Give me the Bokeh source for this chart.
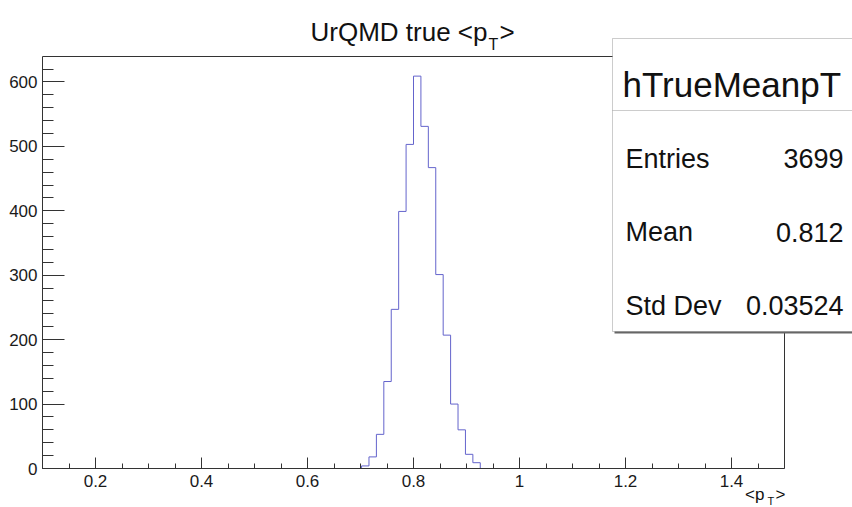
from bokeh.plotting import figure
from bokeh.models import (Range1d, LinearAxis, SingleIntervalTicker, FixedTicker,
                          CustomJSTickFormatter, Label, BoxAnnotation, PolyAnnotation)
from bokeh.embed import file_html
from bokeh.resources import INLINE

# ---- histogram content: 100 bins on [0.1, 1.5], only bins 43..58 are filled ----
bin_low = 0.1
bin_high = 1.5
n_bins = 100
first_filled_bin = 43
bin_counts = [4, 18, 53, 135, 247, 399, 503, 609, 531, 467, 301, 207, 100, 60, 22, 9]

hist_name = "hTrueMeanpT"
stat_names = ["Entries", "Mean", "Std Dev"]
stat_values = ["3699", "0.812", "0.03524"]

title_main = "UrQMD true <p"
axis_title_main = "<p"
sub_text = "T"
close_text = ">"

# ---- geometry: the histogram pad occupies this pixel box of the canvas ----
W, H = 852, 507
FL, FT, FW, FH = 42, 56, 742, 412
FONT = "Liberation Sans"

bin_width = (bin_high - bin_low) / n_bins
y_top = 1.05 * max(bin_counts)


def dx(px):
    return bin_low + (px - FL) * (bin_high - bin_low) / FW


def dy(py):
    return y_top - (py - FT) * y_top / FH


# The plotting frame spans the whole canvas; axes are pinned at fixed data
# locations so that titles and the stats box can sit anywhere on the page.
p = figure(width=W, height=H, output_backend="svg", toolbar_location=None,
           x_range=Range1d(dx(0), dx(W)), y_range=Range1d(dy(H), dy(0)),
           x_axis_location=None, y_axis_location=None,
           min_border=0, min_border_left=0, min_border_right=0,
           min_border_top=0, min_border_bottom=0,
           background_fill_color="white", border_fill_color="white")
p.outline_line_color = None
p.grid.visible = False

# ---- step outline of the histogram ----
edges = [bin_low + (first_filled_bin + i) * bin_width for i in range(len(bin_counts) + 1)]
xs = [bin_low] + edges + [bin_high]
ys = [0] + list(bin_counts) + [0, 0]
p.step(xs, ys, mode="after", line_color="#6464cc", line_width=1)

# ---- axes with inward ticks ----
axis_color = "#333333"
xa = LinearAxis(fixed_location=0, bounds=(bin_low, bin_high))
xa.ticker = SingleIntervalTicker(interval=0.2, num_minor_ticks=4)
xa.formatter = CustomJSTickFormatter(code="return String(Math.round(tick * 10) / 10);")
xa.major_tick_in = 11
xa.major_tick_out = 0
xa.minor_tick_in = 5
xa.minor_tick_out = 0
xa.major_label_standoff = 6

ya = LinearAxis(fixed_location=bin_low, bounds=(0, y_top))
ya.ticker = SingleIntervalTicker(interval=100, num_minor_ticks=5)
ya.major_tick_in = 22
ya.major_tick_out = 0
ya.minor_tick_in = 11
ya.minor_tick_out = 0
ya.major_label_standoff = 5

for ax in (xa, ya):
    ax.axis_line_color = axis_color
    ax.major_tick_line_color = axis_color
    ax.minor_tick_line_color = axis_color
    ax.major_label_text_font = FONT
    ax.major_label_text_font_size = "17px"
    ax.major_label_text_color = "#1a1a1a"

p.add_layout(xa, "below")
p.add_layout(ya, "left")

# plain frame lines on top and right of the pad
top_line = LinearAxis(fixed_location=y_top, bounds=(bin_low, bin_high))
right_line = LinearAxis(fixed_location=bin_high, bounds=(0, y_top))
for fa, side in ((top_line, "above"), (right_line, "right")):
    fa.ticker = FixedTicker(ticks=[])
    fa.axis_line_color = axis_color
    fa.major_tick_in = 0
    fa.major_tick_out = 0
    fa.minor_tick_in = 0
    fa.minor_tick_out = 0
    fa.major_label_text_font_size = "0px"
    p.add_layout(fa, side)


def add_text(px, py, text, size, align="left"):
    p.add_layout(Label(x=dx(px), y=dy(py), text=text, text_align=align,
                       text_baseline="alphabetic", text_font=FONT,
                       text_font_size=size, text_color="#111111"))


# ---- title ----
add_text(487, 31, title_main, "26px", "right")
add_text(488, 44, sub_text, "16px")
add_text(499, 31, close_text, "26px")

# ---- x axis title ----
add_text(764, 494, axis_title_main, "17px", "right")
add_text(767, 500, sub_text, "11px")
add_text(775, 494, close_text, "17px")

# ---- statistics box ----
box_l, box_t, box_b, box_r = 612, 38, 331, 900
p.add_layout(BoxAnnotation(left=dx(box_l + 2), right=dx(box_r), top=dy(box_t + 2),
                           bottom=dy(box_b + 2), fill_color="#666666", fill_alpha=1,
                           line_color=None))
p.add_layout(BoxAnnotation(left=dx(box_l), right=dx(box_r), top=dy(box_t),
                           bottom=dy(box_b), fill_color="white", fill_alpha=1,
                           line_color="#555555", line_width=1))
p.add_layout(PolyAnnotation(xs=[dx(box_l), dx(box_r)], ys=[dy(110), dy(110)],
                            fill_alpha=0, line_color="#555555", line_width=1))

add_text(622, 84, hist_name, "35px")
for i, (name, val) in enumerate(zip(stat_names, stat_values)):
    base = 158 + i * 73.5
    add_text(625, base, name, "27px")
    add_text(843, base, val, "27px", "right")

open("out.html", "w").write(file_html(p, INLINE))
